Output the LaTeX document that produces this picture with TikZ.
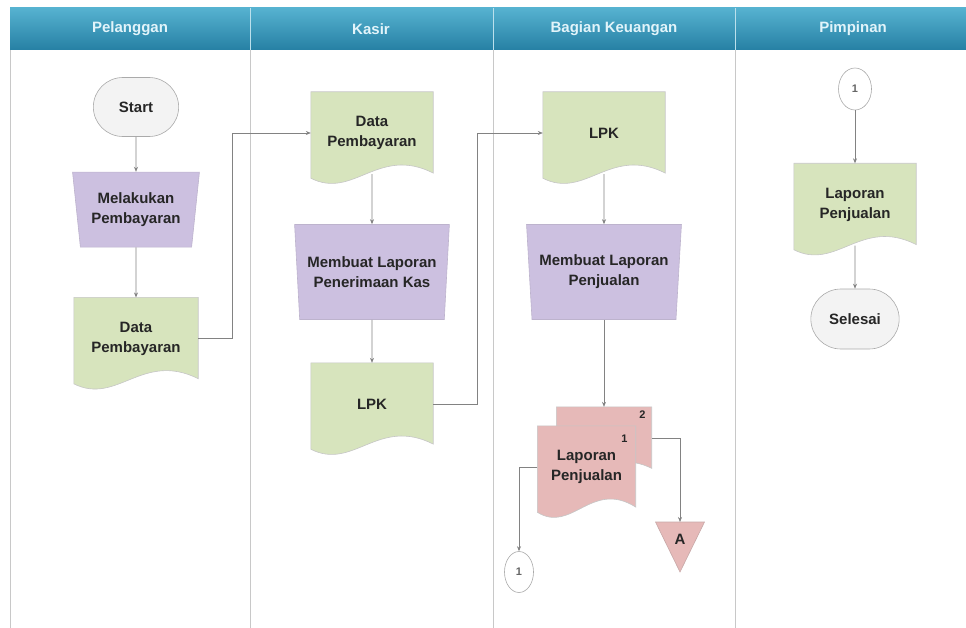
\documentclass[tikz,border=0pt]{standalone}
\usepackage{fontspec}
\setmainfont{Liberation Sans}
\usetikzlibrary{arrows.meta,positioning,shapes.geometric,shapes.misc,backgrounds,calc}
\definecolor{headtop}{RGB}{86,178,208}
\definecolor{headbot}{RGB}{38,128,164}
\definecolor{headtext}{RGB}{226,244,250}
\definecolor{lanegray}{RGB}{200,200,200}
\definecolor{flowgray}{RGB}{130,130,130}
\definecolor{docgreen}{RGB}{215,228,189}
\definecolor{docpink}{RGB}{230,185,184}
\definecolor{procfill}{RGB}{204,192,224}
\definecolor{termfill}{RGB}{243,243,243}
\definecolor{termline}{RGB}{170,170,170}
\newcommand{\flowfont}{\fontsize{15}{20}\selectfont\bfseries}
\newcommand{\tinyfont}{\fontsize{11}{13}\selectfont\bfseries}
\newcommand{\docshape}[2]{%
  \begin{scope}[shift={(#1.south west)},
      x={($(#1.south east)-(#1.south west)$)},
      y={($(#1.north west)-(#1.south west)$)}]
    \draw[draw=gray!45, line width=0.6pt, fill=#2]
      (0,1) -- (1,1) -- (1,0.014) .. controls (0.55,0.35) and (0.35,-0.311) .. (0,-0.049) -- cycle;
  \end{scope}}
\tikzset{
  flow arrow/.style={-{Stealth[length=5pt,width=4pt]}, draw=flowgray, line width=0.6pt},
  lane line/.style={draw=lanegray, line width=0.8pt},
  lane title/.style={text=headtext, font=\flowfont},
  doc node/.style={rectangle, minimum width=122pt, minimum height=82pt,
    align=center, inner sep=2pt, font=\flowfont, text=black!85},
  proc node/.style={trapezium, trapezium stretches=true, shape border rotate=180,
    draw=procfill!80!gray, fill=procfill, line width=0.6pt, align=center,
    inner xsep=1pt, font=\flowfont, text=black!85},
  term node/.style={rounded rectangle, draw=termline, fill=termfill, line width=0.6pt,
    minimum width=92pt, minimum height=59pt, font=\flowfont, text=black!85},
  conn node/.style={ellipse, draw=termline, fill=white, line width=0.6pt,
    minimum width=29pt, minimum height=41pt, inner sep=0pt, font=\tinyfont, text=black!60},
  tri shape/.style={draw=docpink!70!gray, fill=docpink, line width=0.6pt},
  num label/.style={font=\tinyfont, text=black!85, inner sep=1pt}
}
\begin{document}
\begin{tikzpicture}[x=1pt, y=-1pt]
  \useasboundingbox (0,0) rectangle (966,628);
  \shade[top color=headtop, bottom color=headbot] (10,8) rectangle (966,50);
  \foreach \lx in {250,493,735}
    \draw[white!60!headtop, line width=0.6pt] (\lx,8) -- (\lx,50);
  \foreach \lx in {10,250,493,735}
    \draw[lane line] (\lx,50) -- (\lx,628);
  \node[lane title] (headPelanggan) at (130,29) {Pelanggan};
  \node[lane title] (headKasir) at (371,29) {Kasir};
  \node[lane title] (headKeuangan) at (614,29) {Bagian Keuangan};
  \node[lane title] (headPimpinan) at (853,29) {Pimpinan};

  \node[term node] (start) at (136,107) {Start};
  \node[proc node, trapezium angle=81, minimum width=127pt, minimum height=75pt,
    below=35pt of start] (bayar) {Melakukan\\Pembayaran};
  \node[doc node, minimum width=124pt, below=50pt of bayar] (dataBayar) {Data\\Pembayaran};

  \node[doc node] (dataKasir) at (372,133) {Data\\Pembayaran};
  \node[proc node, trapezium angle=83, minimum width=155pt, minimum height=95pt,
    below=50pt of dataKasir] (laporanKas) {Membuat Laporan\\Penerimaan Kas};
  \node[doc node, below=43pt of laporanKas] (lpkKasir) {LPK};

  \node[doc node] (lpkKeuangan) at (604,133) {LPK};
  \node[proc node, trapezium angle=83, minimum width=155pt, minimum height=95pt,
    below=50pt of lpkKeuangan] (laporanJual) {Membuat Laporan\\Penjualan};
  \node[doc node, minimum width=95pt, minimum height=62pt,
    below=87pt of laporanJual] (jualCopy) {};
  \node[doc node, minimum width=98pt, anchor=north west]
    (jualAsli) at ([xshift=-19pt,yshift=-19pt]jualCopy.north west) {Laporan\\Penjualan};
  \node[num label, below left=3pt and 5pt of jualCopy.north east] (numCopy) {2};
  \node[num label, below left=8pt and 7pt of jualAsli.north east] (numAsli) {1};
  \node[conn node] (keluar) at (519,572) {1};
  \coordinate (triTop) at (680,522);
  \draw[tri shape] ([xshift=-24.5pt]triTop) -- ([xshift=24.5pt]triTop) -- ([yshift=-50pt]triTop) -- cycle;
  \node[font=\flowfont, text=black!85] (markA) at (680,539) {A};

  \node[conn node, minimum width=33pt, minimum height=42pt] (masuk) at (855,89) {1};
  \node[doc node, below=53pt of masuk] (laporanPimp) {Laporan\\Penjualan};
  \node[term node, minimum width=95pt, minimum height=60pt,
    below=43pt of laporanPimp] (selesai) {Selesai};

  \begin{scope}[on background layer]
    \docshape{dataBayar}{docgreen}
    \docshape{dataKasir}{docgreen}
    \docshape{lpkKasir}{docgreen}
    \docshape{lpkKeuangan}{docgreen}
    \docshape{jualCopy}{docpink}
    \docshape{jualAsli}{docpink}
    \docshape{laporanPimp}{docgreen}
  \end{scope}

  \draw[flow arrow] (start) -- (bayar);
  \draw[flow arrow] (bayar) -- (dataBayar);
  \draw[flow arrow] (dataBayar.east) -- ++(34,0) |- (dataKasir.west);
  \draw[flow arrow] (dataKasir) -- (laporanKas);
  \draw[flow arrow] (laporanKas) -- (lpkKasir);
  \draw[flow arrow] (lpkKasir.east) -- ++(44,0) |- (lpkKeuangan.west);
  \draw[flow arrow] (lpkKeuangan) -- (laporanJual);
  \draw[flow arrow] (laporanJual.south) -- (jualCopy.north);
  \draw[flow arrow] (jualAsli.west) -| (keluar.north);
  \draw[flow arrow] (jualCopy.east) -| (triTop);
  \draw[flow arrow] (masuk) -- (laporanPimp);
  \draw[flow arrow] (laporanPimp) -- (selesai);
\end{tikzpicture}
\end{document}
